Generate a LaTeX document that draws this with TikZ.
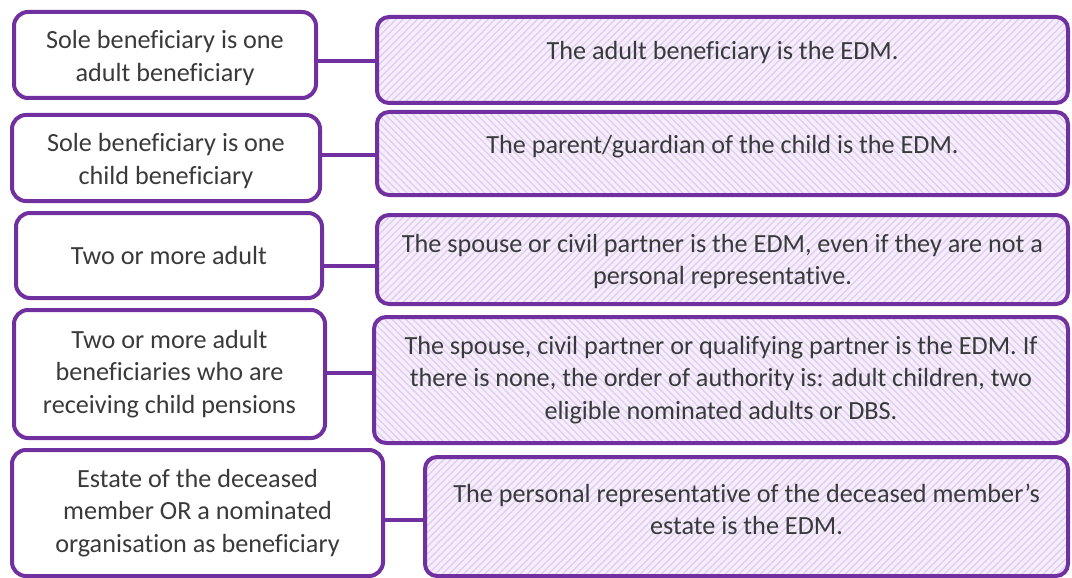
\documentclass[tikz,border=0pt]{standalone}
\usepackage{fontspec}
\setmainfont{Carlito}[Ligatures=NoCommon]
\usetikzlibrary{patterns.meta}
\definecolor{edmpurple}{HTML}{7030A0}
\definecolor{lav}{HTML}{F5EEFB}
\definecolor{stripe}{HTML}{E3CDF3}
\definecolor{txtc}{HTML}{3A3A3A}
\tikzset{
  box/.style={draw=edmpurple, line width=4pt, rounded corners=14pt, rectangle, inner sep=0pt},
  lbox/.style={box, fill=white},
  rboxA/.style={box, rounded corners=12pt, preaction={fill=lav},
    pattern={Lines[angle=45,distance=5pt,line width=1.4pt]}, pattern color=stripe},
  rboxB/.style={box, rounded corners=12pt, preaction={fill=lav},
    pattern={Lines[angle=-45,distance=5pt,line width=1.4pt]}, pattern color=stripe},
  txt/.style={align=center, text=txtc, font=\fontsize{26.2}{32.5}\selectfont, inner sep=0pt},
  conn/.style={draw=edmpurple, line width=4pt}
}
\begin{document}
\begin{tikzpicture}[x=1pt,y=-1pt]
\useasboundingbox (0,0) rectangle (1072,578);
% left boxes
\node[lbox, minimum width=302, minimum height=86] (l1) at (165,55) {};
\node[lbox, minimum width=308, minimum height=86] (l2) at (166,158) {};
\node[lbox, minimum width=306, minimum height=85] (l3) at (169,255.5) {};
\node[lbox, minimum width=311, minimum height=128] (l4) at (169.5,374) {};
\node[lbox, minimum width=371, minimum height=126] (l5) at (197.5,513) {};
% right boxes
\node[rboxA, minimum width=691, minimum height=86] (r1) at (722.5,60) {};
\node[rboxB, minimum width=691, minimum height=83] (r2) at (722.5,153.5) {};
\node[rboxA, minimum width=691, minimum height=89] (r3) at (722.5,259.5) {};
\node[rboxB, minimum width=694, minimum height=126] (r4) at (721,380) {};
\node[rboxA, minimum width=643, minimum height=119] (r5) at (746.5,516.5) {};
% connectors
\draw[conn] ([yshift=-6]l1.east) -- ([yshift=-6]l1.east -| r1.west);
\draw[conn] ([yshift=3]l2.east) -- ([yshift=3]l2.east -| r2.west);
\draw[conn] ([yshift=-10.5]l3.east) -- ([yshift=-10.5]l3.east -| r3.west);
\draw[conn] ([yshift=1]l4.east) -- ([yshift=1]l4.east -| r4.west);
\draw[conn] ([yshift=-7]l5.east) -- ([yshift=-7]l5.east -| r5.west);
% left texts
\node[txt] (tl1) at ([yshift=-3]l1.center) {Sole beneficiary is one\\adult beneficiary};
\node[txt] (tl2) at ([yshift=-3]l2.center) {Sole beneficiary is one\\child beneficiary};
\node[txt] (tl3) at (l3.center) {Two or more adult};
\node[txt] (tl4) at (l4.center) {Two or more adult\\beneficiaries who are\\receiving child pensions};
\node[txt] (tl5) at (l5.center) {Estate of the deceased\\member OR a nominated\\organisation as beneficiary};
% right texts
\node[txt] (tr1) at ([yshift=7]r1.center) {The adult beneficiary is the EDM.};
\node[txt] (tr2) at ([yshift=7]r2.center) {The parent/guardian of the child is the EDM.};
\node[txt] (tr3) at ([yshift=-2]r3.center) {The spouse or civil partner is the EDM, even if they are not a\\personal representative.};
\node[txt] (tr4) at (r4.center) {The spouse, civil partner or qualifying partner is the EDM. If\\there is none, the order of authority is: adult children, two\\eligible nominated adults or DBS.};
\node[txt] (tr5) at ([yshift=7]r5.center) {The personal representative of the deceased member’s\\estate is the EDM.};
\end{tikzpicture}
\end{document}
